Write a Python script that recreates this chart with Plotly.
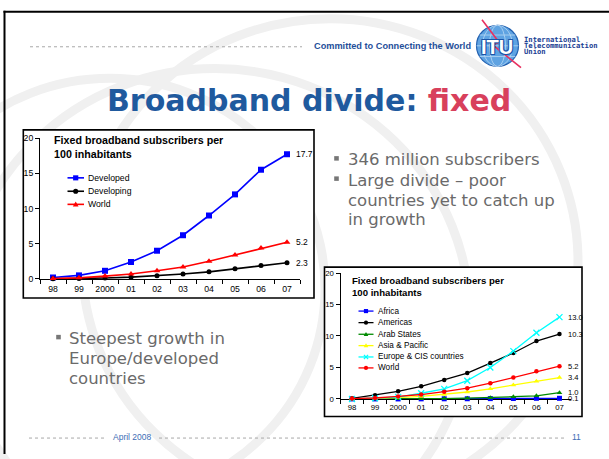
import plotly.graph_objects as go

W, H = 609, 459


def px(x):
    return x / W


def py(y):
    return 1 - y / H


# ---------------- data ----------------
years = ['98', '99', '2000', '01', '02', '03', '04', '05', '06', '07']
yticks = [0, 5, 10, 15, 20]

# chart 1
developed = [0.2, 0.5, 1.15, 2.4, 4.0, 6.2, 9.0, 12.0, 15.5, 17.7]
developing = [0.02, 0.05, 0.12, 0.25, 0.45, 0.7, 1.0, 1.45, 1.9, 2.3]
world = [0.05, 0.15, 0.4, 0.7, 1.15, 1.7, 2.5, 3.4, 4.4, 5.2]
legend1_labels = ['Developed', 'Developing', 'World']

# chart 2
africa = [0, 0, 0, 0.01, 0.02, 0.03, 0.05, 0.07, 0.1, 0.1]
americas = [0.1, 0.6, 1.2, 2.0, 3.0, 4.1, 5.7, 7.3, 9.2, 10.3]
arab_states = [0, 0, 0.01, 0.03, 0.06, 0.12, 0.2, 0.35, 0.5, 1.0]
asia_pacific = [0.02, 0.1, 0.2, 0.4, 0.7, 1.1, 1.6, 2.2, 2.8, 3.4]
europe_cis = [0, 0.1, 0.3, 0.9, 1.6, 2.9, 5.0, 7.6, 10.5, 13.0]
world2 = [0.05, 0.15, 0.4, 0.7, 1.15, 1.7, 2.5, 3.4, 4.4, 5.2]
legend2_labels = ['Africa', 'Americas', 'Arab States', 'Asia & Pacific',
                  'Europe & CIS countries', 'World']

chart_title = 'Fixed broadband subscribers per<br>100 inhabitants'

# ---------------- styles ----------------
BLUE, BLACK, RED = '#0000ff', '#000000', '#ff0000'
GREEN, YELLOW, CYAN = '#008a00', '#ffff00', '#00ffff'

series1 = [  # (values, color, plotly symbol, legend symbol)
    (developed, BLUE, 'square', 'square'),
    (developing, BLACK, 'circle', 'circle'),
    (world, RED, 'triangle-up', 'triangle'),
]
series2 = [
    (africa, BLUE, 'square', 'square'),
    (americas, BLACK, 'circle', 'circle'),
    (arab_states, GREEN, 'triangle-up', 'triangle'),
    (asia_pacific, YELLOW, 'triangle-up', 'triangle'),
    (europe_cis, CYAN, 'x-thin', 'x'),
    (world2, RED, 'circle', 'circle'),
]

fig = go.Figure()

for vals, col, sym, _ in series1:
    fig.add_trace(go.Scatter(
        x=years, y=vals, xaxis='x', yaxis='y', mode='lines+markers',
        line=dict(color=col, width=1.6),
        marker=dict(symbol=sym, size=6 if sym != 'circle' else 5, color=col),
        cliponaxis=False, showlegend=False, hoverinfo='skip'))

for vals, col, sym, _ in series2:
    mk = dict(symbol=sym, size=5 if sym != 'circle' else 4.5, color=col)
    if sym == 'x-thin':
        mk = dict(symbol=sym, size=6, color=col, line=dict(color=col, width=1.3))
    fig.add_trace(go.Scatter(
        x=years, y=vals, xaxis='x2', yaxis='y2', mode='lines+markers',
        line=dict(color=col, width=1.3), marker=mk,
        cliponaxis=False, showlegend=False, hoverinfo='skip'))

ARIAL = 'Liberation Sans, Arial, sans-serif'
DEJAVU = 'DejaVu Sans, Verdana, sans-serif'

axis_common = dict(showline=True, linecolor='black', linewidth=1, ticks='outside',
                   ticklen=4, tickcolor='black', tickwidth=1, showgrid=False,
                   zeroline=False, layer='below traces', fixedrange=True, tickangle=0)

fig.update_layout(
    width=W, height=H, margin=dict(l=0, r=0, t=0, b=0),
    paper_bgcolor='white', plot_bgcolor='rgba(0,0,0,0)', showlegend=False,
    xaxis=dict(domain=[px(40), px(300)], anchor='y', type='category',
               categoryorder='array', categoryarray=years, range=[-0.5, 9.5],
               tickson='boundaries', ticklabelstandoff=2,
               tickfont=dict(family=ARIAL, size=8.7, color='black'), **axis_common),
    yaxis=dict(domain=[py(280), py(136)], anchor='x', range=[0, 20], tickvals=yticks,
               tickfont=dict(family=ARIAL, size=8.7, color='black'), **axis_common),
    xaxis2=dict(domain=[px(340.5), px(571)], anchor='y2', type='category',
                categoryorder='array', categoryarray=years, range=[-0.5, 9.5],
                tickson='boundaries', ticklabelstandoff=1,
                tickfont=dict(family=ARIAL, size=7.8, color='black'), **axis_common),
    yaxis2=dict(domain=[py(402.7), py(274)], anchor='x2', range=[0, 20], tickvals=yticks,
                tickfont=dict(family=ARIAL, size=7.8, color='black'), **axis_common),
)

shapes = []
WM = '#f0f0f0'
# watermark globe arcs
for cx, cy, r in [(215, 320, 255), (330, 262, 248), (110, 290, 215)]:
    shapes.append(dict(type='circle', xref='paper', yref='paper',
                       x0=px(cx - r), x1=px(cx + r), y0=py(cy + r), y1=py(cy - r),
                       line=dict(color=WM, width=9), layer='below'))

# slide border (top and left)
shapes.append(dict(type='line', xref='paper', yref='paper', x0=px(3.5), x1=1,
                   y0=py(6.8), y1=py(6.8), line=dict(color='black', width=2), layer='below'))
shapes.append(dict(type='line', xref='paper', yref='paper', x0=px(4.5), x1=px(4.5),
                   y0=py(5.8), y1=0, line=dict(color='black', width=2), layer='below'))

# header / footer dotted lines
DOT = '#a8a8a8'
for x0, x1, y in [(30, 302, 42.7), (29, 107, 442.7), (159, 564, 442.7)]:
    shapes.append(dict(type='line', xref='paper', yref='paper', x0=px(x0), x1=px(x1),
                       y0=py(y), y1=py(y), line=dict(color=DOT, width=1, dash='dot'),
                       layer='below'))

# chart frames (chart 2 drawn after, on top)
for x0, y0, x1, y1 in [(23.3, 127.7, 314, 299.5), (324.5, 268, 582, 420.7)]:
    shapes.append(dict(type='rect', xref='paper', yref='paper', x0=px(x0), x1=px(x1),
                       y0=py(y1), y1=py(y0), fillcolor='white',
                       line=dict(color='black', width=1.6), layer='below'))

# ITU logo globe
gcx, gcy, gr = 497.5, 41.7, 21
shapes.append(dict(type='circle', xref='paper', yref='paper', x0=px(gcx - gr), x1=px(gcx + gr),
                   y0=py(gcy + gr), y1=py(gcy - gr), fillcolor='#5fa3e2',
                   line=dict(color='#2160b0', width=1.2), layer='below'))
for rx in [8, 15]:
    shapes.append(dict(type='circle', xref='paper', yref='paper', x0=px(gcx - rx), x1=px(gcx + rx),
                       y0=py(gcy + gr), y1=py(gcy - gr),
                       line=dict(color='#b8d8f4', width=0.8), layer='below'))
for dy in [-11, 0, 11]:
    half = (gr ** 2 - dy ** 2) ** 0.5
    shapes.append(dict(type='line', xref='paper', yref='paper', x0=px(gcx - half), x1=px(gcx + half),
                       y0=py(gcy + dy), y1=py(gcy + dy),
                       line=dict(color='#b8d8f4', width=0.8), layer='below'))
bolt = [(482, 15), (499, 38), (493, 41), (521, 64)]
path = 'M ' + ' L '.join(f'{px(x):.5f},{py(y):.5f}' for x, y in bolt)
shapes.append(dict(type='path', xref='paper', yref='paper', path=path,
                   line=dict(color='#e8305f', width=1.6), layer='above'))

# bullets (small squares)
BUL = '#777777'
for bx, by in [(336.5, 156.8), (336.5, 177.5), (58.5, 339.5)]:
    shapes.append(dict(type='rect', xref='paper', yref='paper', x0=px(bx - 2.3), x1=px(bx + 2.3),
                       y0=py(by + 2.3), y1=py(by - 2.3), fillcolor=BUL,
                       line=dict(width=0), layer='below'))


# legend symbols
def legend_symbol(cx, cy, kind, col, s):
    out = []
    if kind == 'square':
        out.append(dict(type='rect', x0=px(cx - s), x1=px(cx + s), y0=py(cy + s), y1=py(cy - s),
                        fillcolor=col, line=dict(width=0)))
    elif kind == 'circle':
        out.append(dict(type='circle', x0=px(cx - s), x1=px(cx + s), y0=py(cy + s), y1=py(cy - s),
                        fillcolor=col, line=dict(width=0)))
    elif kind == 'triangle':
        p = (f'M {px(cx):.5f},{py(cy - s * 1.15):.5f} L {px(cx + s * 1.1):.5f},{py(cy + s * 0.85):.5f} '
             f'L {px(cx - s * 1.1):.5f},{py(cy + s * 0.85):.5f} Z')
        out.append(dict(type='path', path=p, fillcolor=col, line=dict(width=0)))
    else:
        p = (f'M {px(cx - s):.5f},{py(cy - s):.5f} L {px(cx + s):.5f},{py(cy + s):.5f} '
             f'M {px(cx - s):.5f},{py(cy + s):.5f} L {px(cx + s):.5f},{py(cy - s):.5f}')
        out.append(dict(type='path', path=p, line=dict(color=col, width=1.2)))
    for o in out:
        o.update(xref='paper', yref='paper', layer='above')
    return out


annotations = []

leg1_rows = [176.7, 190.4, 203.8]
for (vals, col, sym, kind), lab, yy in zip(series1, legend1_labels, leg1_rows):
    shapes.append(dict(type='line', xref='paper', yref='paper', x0=px(67.5), x1=px(84),
                       y0=py(yy), y1=py(yy), line=dict(color=col, width=1.6), layer='above'))
    shapes += legend_symbol(75.7, yy, kind, col, 2.6)
    annotations.append(dict(x=px(86), y=py(yy), xref='paper', yref='paper', text=lab,
                            showarrow=False, xanchor='left', yanchor='middle',
                            font=dict(family=ARIAL, size=8.7, color='black')))

leg2_rows = [312.9, 324.7, 336.6, 348.2, 359.8, 371.0]
for (vals, col, sym, kind), lab, yy in zip(series2, legend2_labels, leg2_rows):
    shapes.append(dict(type='line', xref='paper', yref='paper', x0=px(358.5), x1=px(373.5),
                       y0=py(yy), y1=py(yy), line=dict(color=col, width=1.3), layer='above'))
    shapes += legend_symbol(366, yy, kind, col, 2.1)
    annotations.append(dict(x=px(375.5), y=py(yy), xref='paper', yref='paper', text=lab,
                            showarrow=False, xanchor='left', yanchor='middle',
                            font=dict(family=ARIAL, size=8.2, color='black')))

# end-of-line value labels (from the data); category axes use the index
last = len(years) - 1
for vals, col, sym, kind in series1:
    annotations.append(dict(x=last, y=vals[-1], xref='x', yref='y', text=f'{vals[-1]:.1f}',
                            showarrow=False, xanchor='left', yanchor='middle', xshift=6.5,
                            font=dict(family=ARIAL, size=8.5, color='black')))
for vals, col, sym, kind in series2:
    annotations.append(dict(x=last, y=vals[-1], xref='x2', yref='y2', text=f'{vals[-1]:.1f}',
                            showarrow=False, xanchor='left', yanchor='middle', xshift=6.2,
                            font=dict(family=ARIAL, size=7.6, color='black')))

# chart titles
annotations.append(dict(x=px(51.5), y=py(145.3), xref='paper', yref='paper', text=chart_title,
                        showarrow=False, xanchor='left', yanchor='middle', align='left',
                        font=dict(family=ARIAL, size=10.7, color='black', weight='bold')))
annotations.append(dict(x=px(350), y=py(287.7), xref='paper', yref='paper', text=chart_title,
                        showarrow=False, xanchor='left', yanchor='middle', align='left',
                        font=dict(family=ARIAL, size=9.6, color='black', weight='bold')))

# main title
annotations.append(dict(x=px(308.7), y=py(97.8), xref='paper', yref='paper',
                        text='Broadband divide: <span style="color:#d8405c">fixed</span>',
                        showarrow=False, xanchor='center', yanchor='middle',
                        font=dict(family=DEJAVU, size=30, color='#1f5a9e', weight='bold')))

# header
annotations.append(dict(x=px(311.5), y=py(41.9), xref='paper', yref='paper',
                        text='Committed to Connecting the World', showarrow=False,
                        xanchor='left', yanchor='middle',
                        font=dict(family=ARIAL, size=9.2, color='#1f4f9a', weight='bold')))
annotations.append(dict(x=px(gcx), y=py(42.5), xref='paper', yref='paper', text='ITU',
                        showarrow=False, xanchor='center', yanchor='middle',
                        font=dict(family=ARIAL, size=20, color='white', weight='bold',
                                  shadow='-1px -1px 0 #1c55a8, 1px -1px 0 #1c55a8, '
                                         '-1px 1px 0 #1c55a8, 1px 1px 0 #1c55a8')))
for txt, yy in [('International', 35.0), ('Telecommunication', 41.6), ('Union', 48.0)]:
    annotations.append(dict(x=px(521.5), y=py(yy), xref='paper', yref='paper', text=txt,
                            showarrow=False, xanchor='left', yanchor='middle',
                            font=dict(family='DejaVu Sans Mono', size=7.2, color='#1a3e94',
                                      weight='bold')))

# bullet texts
TXT = '#6a6a6a'
for txt, xx, yy in [('346 million subscribers', 345.5, 158.3),
                    ('Large divide \u2013 poor', 345.5, 179.0),
                    ('countries yet to catch up', 345.5, 199.4),
                    ('in growth', 345.5, 219.6),
                    ('Steepest growth in', 66.5, 341.0),
                    ('Europe/developed', 66.5, 361.6),
                    ('countries', 66.5, 382.2)]:
    annotations.append(dict(x=px(xx), y=py(yy), xref='paper', yref='paper', text=txt,
                            showarrow=False, xanchor='left', yanchor='middle',
                            font=dict(family=DEJAVU, size=16.5, color=TXT)))

# footer
annotations.append(dict(x=px(132), y=py(442), xref='paper', yref='paper', text='April 2008',
                        showarrow=False, xanchor='center', yanchor='middle',
                        font=dict(family=ARIAL, size=8.5, color='#3d6db5')))
annotations.append(dict(x=px(576), y=py(441.7), xref='paper', yref='paper', text='11',
                        showarrow=False, xanchor='center', yanchor='middle',
                        font=dict(family=ARIAL, size=8.5, color='#3d6db5')))

fig.update_layout(shapes=shapes, annotations=annotations)
fig.write_html('out.html', config={'displayModeBar': False},
               post_script="document.body.style.margin='0';"
                           "document.documentElement.style.overflow='hidden';")
